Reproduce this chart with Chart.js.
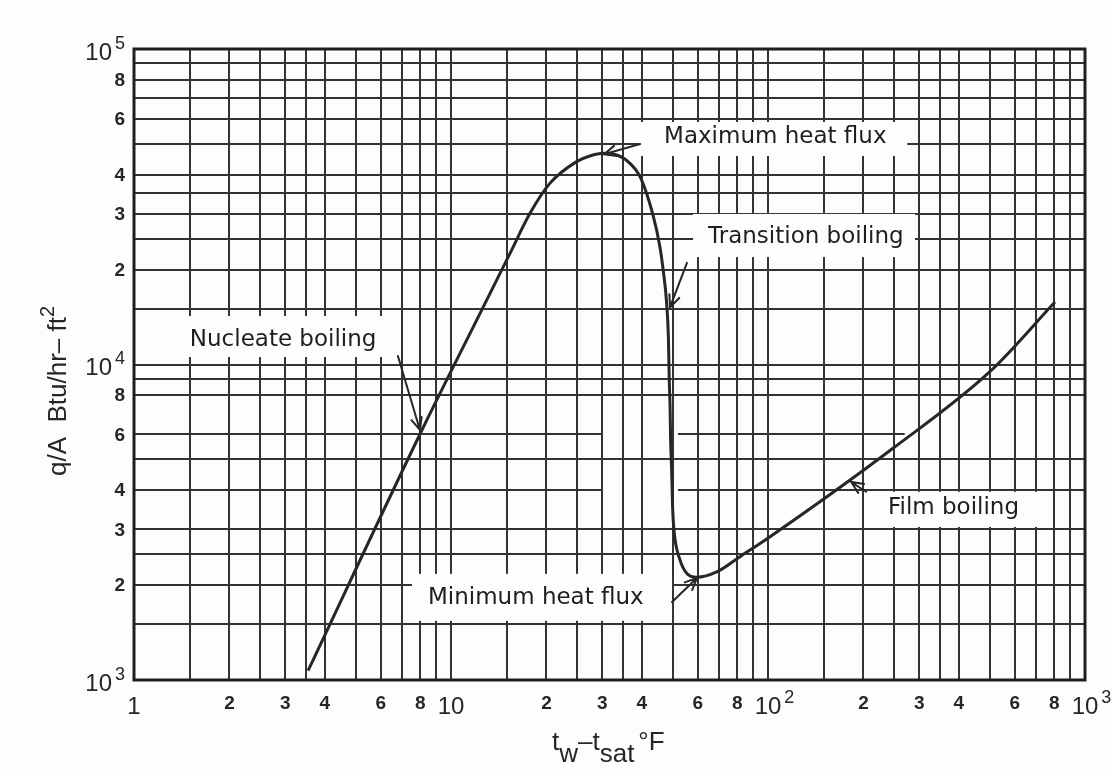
<!DOCTYPE html>
<html>
<head>
<meta charset="utf-8">
<title>Boiling curve</title>
<script src="https://cdn.jsdelivr.net/npm/chart.js@4.4.1/dist/chart.umd.min.js"></script>
<style>
  html, body { margin: 0; padding: 0; background: #fdfdfd; }
  #wrap { width: 1112px; height: 774px; }
</style>
</head>
<body>
<div id="wrap"><canvas id="boilChart" width="1112" height="774"></canvas></div>
<script>
// boiling curve: wall superheat (F) vs heat flux (Btu/hr-ft2)
const deltaT   = [3.54, 8.1, 12.35, 15.35, 17.75, 20.5, 24.9, 27.4, 30.2, 33.3, 36.7, 39.5, 43.5, 45.6, 46.7, 47.9, 48.5, 48.8,
                  49.1, 49.3, 49.7, 50.0, 50.5, 52.8, 55.4, 59.6, 68.9, 81.6, 101.5, 248.5, 501, 804];
const heatFlux = [1070, 6200, 14530, 22500, 30150, 37500, 43950, 45800, 46700, 46150, 43400, 39370, 29420, 23630, 19930, 15630, 12250, 9000,
                  7350, 5760, 4520, 3540, 2990, 2400, 2180, 2116, 2200, 2460, 2845, 5435, 9490, 15780];

// rulings of the log-log paper
const xGrid = [1, 1.5, 2, 2.5, 3, 3.5, 4, 5, 6, 7, 8, 9,
               10, 15, 20, 25, 30, 35, 40, 50, 60, 70, 80, 90,
               100, 150, 200, 250, 300, 350, 400, 500, 600, 700, 800, 900, 1000];
const yGrid = [1000, 1500, 2000, 2500, 3000, 5000, 8000, 9000,
               10000, 15000, 20000, 25000, 30000, 35000, 40000, 50000, 60000, 70000, 80000, 90000, 100000];
// rulings that are only printed in pieces (x ranges)
const yPartRules = [6000, 4000];
const yPartSpans = [[[1, 30], [52, 270]], [[1, 30], [52, 1000]]];

// axis numbering ('10^2' = ten with exponent)
const xTickVals   = [1, 2, 3, 4, 6, 8, 10, 20, 30, 40, 60, 80, 100, 200, 300, 400, 600, 800, 1000];
const xTickLabels = ['1', '2', '3', '4', '6', '8', '10', '2', '3', '4', '6', '8', '10^2', '2', '3', '4', '6', '8', '10^3'];
const yTickVals   = [1000, 2000, 3000, 4000, 6000, 8000, 10000, 20000, 30000, 40000, 60000, 80000, 100000];
const yTickLabels = ['10^3', '2', '3', '4', '6', '8', '10^4', '2', '3', '4', '6', '8', '10^5'];

// callouts: text anchor, blank box behind it, arrow (from -> tip), all in data units
const notes = [
  { text: 'Maximum heat flux',  at: [47, 52600],   box: [39.5, 58700, 275, 45800], arrow: [39.5, 50000, 30.4, 46400] },
  { text: 'Transition boiling', at: [64.7, 25400], box: [58, 30000, 291, 21900],   arrow: [55.5, 21000, 49.1, 15200] },
  { text: 'Nucleate boiling',   at: [1.5, 11960],  box: [1.42, 14250, 6.9, 10560], arrow: [6.8, 10640, 7.98, 6200] },
  { text: 'Minimum heat flux',  at: [8.46, 1820],  box: [7.53, 2170, 49.8, 1540],  arrow: [49.8, 1767, 59.7, 2105] },
  { text: 'Film boiling',       at: [239, 3510],   box: [204, 3950, 721, 3055],    arrow: [204, 3950, 183, 4243] }
];

const ink = '#262626';
const rule = '#333';
const bodyFont = '"Liberation Sans", Arial, sans-serif';

function drawArrow(ctx, x0, y0, x1, y1) {
  const ang = Math.atan2(y1 - y0, x1 - x0);
  const len = 13, spread = 0.42;
  ctx.beginPath();
  ctx.moveTo(x0, y0);
  ctx.lineTo(x1, y1);
  ctx.moveTo(x1 - len * Math.cos(ang - spread), y1 - len * Math.sin(ang - spread));
  ctx.lineTo(x1, y1);
  ctx.lineTo(x1 - len * Math.cos(ang + spread), y1 - len * Math.sin(ang + spread));
  ctx.stroke();
}

// '10^2' -> big 10 with small raised exponent, otherwise a bold digit
function drawTickText(ctx, label, x, y, align) {
  const parts = label.split('^');
  ctx.fillStyle = ink;
  ctx.textBaseline = 'middle';
  ctx.textAlign = 'left';
  if (parts.length === 1 && label !== '10' && label !== '1') {
    ctx.font = 'bold 19px ' + bodyFont;
    const w = ctx.measureText(label).width;
    ctx.fillText(label, align === 'center' ? x - w / 2 : x - w, y);
    return;
  }
  ctx.font = '24px ' + bodyFont;
  const wBase = ctx.measureText(parts[0]).width;
  ctx.font = '18px ' + bodyFont;
  const wExp = parts[1] ? ctx.measureText(parts[1]).width + 3 : 0;
  const left = align === 'center' ? x - wBase / 2 : x - wBase - wExp;
  ctx.font = '24px ' + bodyFont;
  ctx.fillText(parts[0], left, y + 3);
  if (parts[1]) {
    ctx.font = '18px ' + bodyFont;
    ctx.fillText(parts[1], left + wBase + 3, y - 6);
  }
}

const paperPlugin = {
  id: 'paper',
  beforeDatasetsDraw(chart) {
    const { ctx, chartArea: a, scales: { x, y } } = chart;
    ctx.save();
    // broken rulings
    ctx.strokeStyle = rule;
    ctx.lineWidth = 2;
    yPartRules.forEach((v, i) => {
      const py = Math.round(y.getPixelForValue(v));
      yPartSpans[i].forEach(([from, to]) => {
        ctx.beginPath();
        ctx.moveTo(x.getPixelForValue(from), py);
        ctx.lineTo(x.getPixelForValue(to), py);
        ctx.stroke();
      });
    });
    // blank areas behind the callout texts
    ctx.fillStyle = '#fdfdfd';
    notes.forEach(n => {
      const x0 = x.getPixelForValue(n.box[0]), y0 = y.getPixelForValue(n.box[1]);
      const x1 = x.getPixelForValue(n.box[2]), y1 = y.getPixelForValue(n.box[3]);
      ctx.fillRect(x0, y0, x1 - x0, y1 - y0);
    });
    // frame
    ctx.strokeStyle = '#1f1f1f';
    ctx.lineWidth = 3;
    ctx.strokeRect(a.left, a.top, a.right - a.left, a.bottom - a.top);
    ctx.restore();
  },
  afterDatasetsDraw(chart) {
    const { ctx, scales: { x, y } } = chart;
    ctx.save();
    ctx.strokeStyle = ink;
    ctx.lineWidth = 2;
    ctx.lineCap = 'round';
    notes.forEach(n => {
      drawArrow(ctx,
        x.getPixelForValue(n.arrow[0]), y.getPixelForValue(n.arrow[1]),
        x.getPixelForValue(n.arrow[2]), y.getPixelForValue(n.arrow[3]));
      ctx.font = '23px "DejaVu Sans", sans-serif';
      ctx.fillStyle = '#1e1e1e';
      ctx.textAlign = 'left';
      ctx.textBaseline = 'middle';
      ctx.fillText(n.text, x.getPixelForValue(n.at[0]), y.getPixelForValue(n.at[1]));
    });

    // numbering below and left of the frame
    xTickVals.forEach((v, i) => drawTickText(ctx, xTickLabels[i], x.getPixelForValue(v), 704, 'center'));
    yTickVals.forEach((v, i) => drawTickText(ctx, yTickLabels[i], 125, y.getPixelForValue(v) + 1, 'right'));

    // axis titles
    ctx.fillStyle = ink;
    ctx.textAlign = 'left';
    ctx.textBaseline = 'alphabetic';
    const big = '26px ' + bodyFont;
    let cx = 552;
    const put = (s, dy) => { ctx.fillText(s, cx, 750 + dy); cx += ctx.measureText(s).width; };
    ctx.font = big;
    put('t', 0); put('w', 12); put('\u2013t', 0); put('sat', 12); cx += 4; put('\u00b0F', 0);

    ctx.translate(66, 476);
    ctx.rotate(-Math.PI / 2);
    ctx.font = big;
    let ty = 0;
    const putV = (s, dy) => { ctx.fillText(s, ty, dy); ty += ctx.measureText(s).width; };
    putV('q/A  Btu/hr\u2013 ft', 0);
    ctx.font = '20px ' + bodyFont;
    putV('2', -12);
    ctx.restore();
  }
};

new Chart(document.getElementById('boilChart'), {
  type: 'line',
  data: {
    datasets: [{
      data: deltaT.map((t, i) => ({ x: t, y: heatFlux[i] })),
      borderColor: ink,
      borderWidth: 3,
      pointRadius: 0,
      fill: false,
      cubicInterpolationMode: 'monotone'
    }]
  },
  options: {
    responsive: false,
    animation: false,
    devicePixelRatio: 1,
    layout: { padding: { left: 134, top: 49, right: 27, bottom: 94 } },
    plugins: { legend: { display: false }, tooltip: { enabled: false } },
    scales: {
      x: {
        type: 'logarithmic', min: 1, max: 1000,
        afterBuildTicks: s => { s.ticks = xGrid.map(v => ({ value: v })); },
        ticks: { display: false, autoSkip: false },
        grid: { color: rule, lineWidth: 2, drawTicks: false },
        border: { display: false }
      },
      y: {
        type: 'logarithmic', min: 1000, max: 100000,
        afterBuildTicks: s => { s.ticks = yGrid.map(v => ({ value: v })); },
        ticks: { display: false, autoSkip: false },
        grid: { color: rule, lineWidth: 2, drawTicks: false },
        border: { display: false }
      }
    }
  },
  plugins: [paperPlugin]
});
</script>
</body>
</html>
